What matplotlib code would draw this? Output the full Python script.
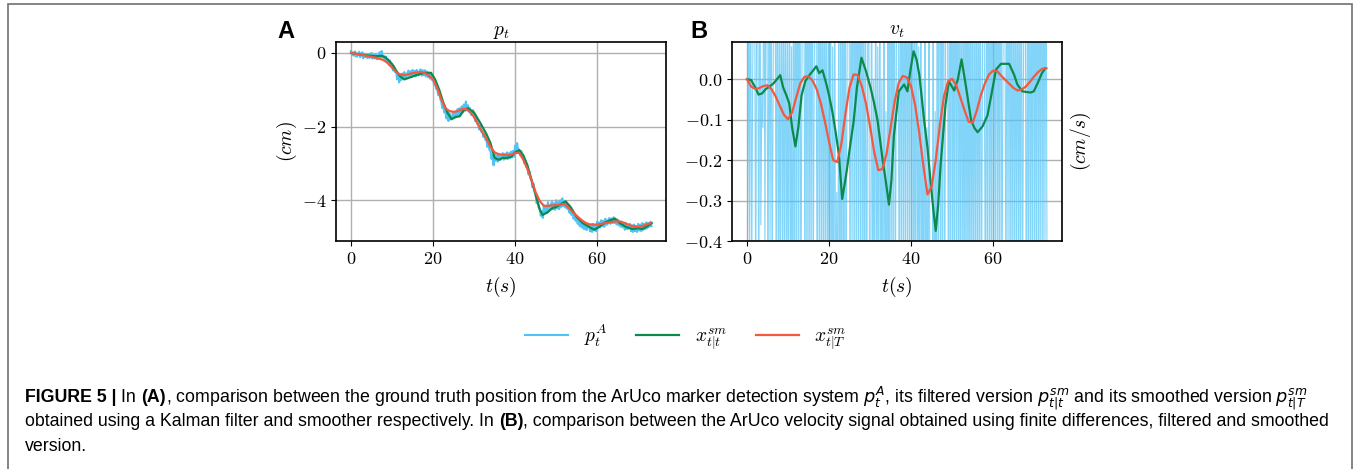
import numpy as np
import matplotlib
matplotlib.use("Agg")
import matplotlib.pyplot as plt
from matplotlib.patches import Rectangle

plt.rcParams['font.family'] = 'serif'
plt.rcParams['font.serif'] = ['cmr10']
plt.rcParams['mathtext.fontset'] = 'cm'
plt.rcParams['axes.formatter.use_mathtext'] = True
plt.rcParams['axes.unicode_minus'] = True

# ArUco position samples, every 0.25 s (cm)
dt_aruco = 0.25
p_aruco = [
    0.05, -0.06, 0.02, -0.08,   0.04, -0.10, -0.10, -0.02,   0.03, -0.12, -0.04, 0.02,
    -0.15, -0.02, -0.11, -0.11,  -0.14, -0.03, -0.14, -0.03,  0.00, -0.16, -0.05, -0.15,
    -0.03, -0.17, -0.17, -0.04,  0.02, -0.13, 0.05, -0.12,  -0.08, -0.22, -0.10, -0.24,
    -0.17, -0.33, -0.20, -0.36,  -0.32, -0.48, -0.36, -0.52,  -0.50, -0.72, -0.55, -0.80,
    -0.58, -0.74, -0.56, -0.70,  -0.52, -0.68, -0.68, -0.55,  -0.48, -0.64, -0.50, -0.66,
    -0.46, -0.63, -0.49, -0.64,  -0.46, -0.61, -0.61, -0.47,  -0.45, -0.62, -0.47, -0.61,
    -0.47, -0.64, -0.50, -0.66,  -0.55, -0.70, -0.58, -0.74,  -0.70, -0.88, -0.78, -0.98,
    -0.96, -1.15, -1.05, -1.25,  -1.32, -1.50, -1.42, -1.62,  -1.55, -1.78, -1.60, -1.85,
    -1.64, -1.80, -1.80, -1.66,  -1.60, -1.76, -1.62, -1.74,  -1.52, -1.68, -1.50, -1.66,
    -1.45, -1.62, -1.40, -1.58,  -1.32, -1.56, -1.42, -1.60,  -1.50, -1.68, -1.68, -1.55,
    -1.70, -1.85, -1.75, -1.92,  -1.92, -2.08, -1.98, -2.14,  -2.12, -2.28, -2.20, -2.36,
    -2.36, -2.55, -2.46, -2.64,  -2.66, -2.88, -2.78, -3.05,  -2.76, -2.93, -2.78, -2.95,
    -2.74, -2.90, -2.90, -2.76,  -2.72, -2.90, -2.74, -2.88,  -2.70, -2.88, -2.72, -2.86,
    -2.68, -2.84, -2.66, -2.82,  -2.52, -2.72, -2.45, -2.70,  -2.62, -2.78, -2.66, -2.84,
    -2.82, -3.00, -2.92, -3.10,  -3.10, -3.30, -3.22, -3.42,  -3.45, -3.65, -3.55, -3.75,
    -3.85, -4.08, -3.95, -4.20,  -4.22, -4.42, -4.30, -4.48,  -4.14, -4.32, -4.18, -4.35,
    -4.05, -4.26, -4.26, -4.10,  -4.04, -4.24, -4.08, -4.26,  -4.00, -4.22, -4.05, -4.24,
    -4.00, -4.18, -3.95, -4.16,  -4.02, -4.20, -4.06, -4.24,  -4.15, -4.34, -4.22, -4.40,
    -4.30, -4.50, -4.38, -4.56,  -4.46, -4.64, -4.52, -4.70,  -4.55, -4.74, -4.62, -4.78,
    -4.63, -4.80, -4.80, -4.66,  -4.66, -4.84, -4.70, -4.86,  -4.64, -4.82, -4.68, -4.84,
    -4.58, -4.76, -4.60, -4.74,  -4.54, -4.70, -4.56, -4.72,  -4.50, -4.66, -4.66, -4.52,
    -4.48, -4.64, -4.50, -4.62,  -4.46, -4.62, -4.50, -4.66,  -4.52, -4.68, -4.56, -4.72,
    -4.58, -4.74, -4.62, -4.80,  -4.62, -4.78, -4.78, -4.66,  -4.64, -4.84, -4.68, -4.86,
    -4.66, -4.84, -4.70, -4.86,  -4.64, -4.82, -4.66, -4.84,  -4.62, -4.80, -4.64, -4.78,
    -4.60, -4.76, -4.62, -4.72,  -4.58, -4.70,
]

# Kalman filtered position x_{t|t}
t_filt_pos = [0, 2, 4, 6, 7.5, 8.5, 10, 11, 12, 13, 14, 16, 18, 19.5, 20.5, 21.5, 22.5, 23.5,
              24.5, 25.5, 26.5, 27.5, 28.5, 30, 31.5, 33, 34, 35, 36, 37, 38, 39, 40, 41, 42,
              43, 44, 45, 46, 46.7, 48, 49, 50, 51, 52.3, 53.5, 55, 56.5, 58, 59.3, 60.5, 62,
              63, 64.3, 65.5, 67, 68.5, 70, 71, 72, 73.3]
filt_pos = [0, -0.04, -0.07, -0.09, -0.08, -0.13, -0.30, -0.48, -0.64, -0.72, -0.68, -0.60,
            -0.54, -0.54, -0.72, -1.00, -1.35, -1.62, -1.80, -1.74, -1.72, -1.55, -1.50, -1.62,
            -1.90, -2.20, -2.45, -2.85, -2.90, -2.85, -2.85, -2.82, -2.70, -2.64, -2.78, -3.05,
            -3.45, -3.85, -4.25, -4.40, -4.32, -4.22, -4.18, -4.12, -4.03, -4.18, -4.45, -4.62,
            -4.72, -4.80, -4.72, -4.60, -4.55, -4.50, -4.62, -4.72, -4.78, -4.76, -4.78, -4.72,
            -4.62]

# Kalman smoothed position x_{t|T}, every second
t_smooth = np.arange(0, 74)
smooth_pos = [0.00, -0.02, -0.04, -0.06, -0.09, -0.11, -0.13, -0.16, -0.20, -0.28,
              -0.40, -0.52, -0.59, -0.60, -0.58, -0.55, -0.53, -0.52, -0.55, -0.62,
              -0.72, -0.95, -1.25, -1.50, -1.58, -1.60, -1.58, -1.53, -1.52, -1.60,
              -1.74, -1.95, -2.15, -2.33, -2.55, -2.70, -2.75, -2.77, -2.77, -2.76,
              -2.72, -2.71, -2.90, -3.15, -3.45, -3.78, -4.02, -4.15, -4.15, -4.14,
              -4.13, -4.12, -4.10, -4.20, -4.32, -4.42, -4.52, -4.60, -4.65, -4.66,
              -4.66, -4.64, -4.62, -4.60, -4.58, -4.57, -4.59, -4.63, -4.68, -4.71,
              -4.72, -4.70, -4.66, -4.62]

# filtered velocity
t_filt_vel = [0, 1, 2, 2.8, 3.7, 4.5, 5.5, 6.5, 7.3, 8.1, 8.8, 9.6, 10.3, 11.0, 11.8, 12.5,
              13.3, 14.2, 15.2, 16.0, 16.9, 17.6, 18.4, 19.3, 20.0, 20.8, 21.6, 22.4, 23.2,
              23.8, 24.4, 25.2, 26.0, 26.8, 27.9, 29.0, 30.1, 31.0, 31.8, 33.0, 33.8, 34.6,
              35.2, 35.8, 37.0, 38.3, 39.1, 39.8, 40.6, 41.3, 42.0, 43.2, 44.0, 44.9, 45.5,
              46.0, 46.6, 47.2, 48.4, 49.2, 50.5, 51.4, 52.3, 53.4, 54.6, 55.4, 56.2, 57.4,
              58.6, 59.5, 60.7, 61.9, 63.9, 65.1, 65.9, 67.1, 69.1, 69.9, 70.7, 71.9, 72.7]
filt_vel = [0, -0.002, -0.02, -0.038, -0.035, -0.025, -0.018, -0.01, 0.0, 0.01, -0.02, -0.04,
            -0.06, -0.12, -0.166, -0.12, -0.04, -0.005, 0.01, 0.02, 0.032, 0.015, 0.022, -0.01,
            -0.04, -0.08, -0.13, -0.187, -0.296, -0.26, -0.22, -0.16, -0.104, -0.02, 0.053,
            0.02, -0.02, -0.06, -0.10, -0.195, -0.25, -0.31, -0.25, -0.14, -0.03, -0.013,
            -0.03, 0.02, 0.069, 0.05, 0.011, -0.104, -0.17, -0.27, -0.33, -0.375, -0.31, -0.21,
            -0.063, -0.005, -0.028, 0.0, 0.049, -0.02, -0.10, -0.12, -0.131, -0.117, -0.09,
            -0.042, 0.024, 0.038, 0.038, 0.011, -0.013, -0.03, -0.033, -0.03, -0.013, 0.015,
            0.027]

# smoothed velocity, every second
smooth_vel = [0.000, -0.018, -0.024, -0.022, -0.017, -0.015, -0.025, -0.043, -0.066, -0.088,
              -0.099, -0.082, -0.045, -0.010, 0.006, 0.007, -0.004, -0.025, -0.060, -0.105,
              -0.155, -0.200, -0.205, -0.160, -0.085, -0.020, 0.012, 0.010, -0.018, -0.060,
              -0.117, -0.180, -0.225, -0.222, -0.185, -0.120, -0.055, -0.008, 0.008, 0.004,
              -0.018, -0.065, -0.134, -0.215, -0.285, -0.265, -0.200, -0.115, -0.043, -0.005,
              0.001, -0.015, -0.045, -0.076, -0.105, -0.108, -0.078, -0.040, -0.010, 0.012,
              0.021, 0.020, 0.008, -0.002, -0.012, -0.022, -0.028, -0.025, -0.018, -0.006,
              0.007, 0.018, 0.026, 0.027]

c_blue = '#4FC3F7'
c_green = '#0B8A4C'
c_red = '#F4583F'

t_aruco = np.arange(len(p_aruco)) * dt_aruco
v_aruco = np.diff(p_aruco) / dt_aruco   # finite differences
t_v = t_aruco[:-1] + dt_aruco / 2

W, H = 1354, 469
fig = plt.figure(figsize=(W / 100, H / 100), dpi=100)

ax1 = fig.add_axes([336 / W, 1 - 241 / H, 330 / W, 199 / H])
ax2 = fig.add_axes([732 / W, 1 - 241 / H, 330 / W, 199 / H])

l1, = ax1.plot(t_aruco, p_aruco, color=c_blue, lw=1.5)
l2, = ax1.plot(t_filt_pos, filt_pos, color=c_green, lw=1.6)
l3, = ax1.plot(t_smooth, smooth_pos, color=c_red, lw=1.6)
ax1.set_yticks([-4, -2, 0])
ax1.set_ylabel('$(cm)$', fontsize=14, labelpad=2)
ax1.set_title('$p_t$', fontsize=14, pad=5)

ax2.plot(t_v, v_aruco, color=c_blue, lw=0.8, alpha=0.7)
ax2.plot(t_filt_vel, filt_vel, color=c_green, lw=1.6)
ax2.plot(t_smooth, smooth_vel, color=c_red, lw=1.6)
ax2.set_ylim(-0.4, 0.092)
ax2.set_yticks([-0.4, -0.3, -0.2, -0.1, 0.0])
ax2.yaxis.set_label_position('right')
ax2.set_ylabel('$(cm/s)$', fontsize=14, labelpad=5)
ax2.set_title('$v_t$', fontsize=14, pad=5)

for ax in (ax1, ax2):
    ax.set_xticks([0, 20, 40, 60])
    ax.set_xlabel('$t(s)$', fontsize=14, labelpad=6)
    ax.grid(True, color='#b0b0b0', lw=1)
    ax.tick_params(labelsize=13)
    for s in ax.spines.values():
        s.set_linewidth(1.2)

ax1.set_xlim(ax2.get_xlim())

fig.text(277 / W, 1 - 31 / H, 'A', fontsize=17, fontweight='bold',
         family='Liberation Sans', va='center', ha='left')
fig.text(690 / W, 1 - 31 / H, 'B', fontsize=17, fontweight='bold',
         family='Liberation Sans', va='center', ha='left')

fig.legend([l1, l2, l3], ['$p_t^A$', '$x_{t|t}^{sm}$', '$x_{t|T}^{sm}$'],
           loc='center', bbox_to_anchor=(686 / W, 1 - 337 / H), ncol=3,
           frameon=False, fontsize=14, handlelength=2.2, handletextpad=0.8,
           columnspacing=1.5)

# frame around the figure
fig.patches.append(Rectangle((8 / W, -0.1), (1352 - 8) / W, 1.1 - 4 / H,
                             transform=fig.transFigure, fill=False,
                             edgecolor='#707070', lw=1.2))

# caption, pieces of text put one after another
renderer = fig.canvas.get_renderer()
cap_lines = [
    (1 - 398 / H, [('FIGURE 5 | ', 'bold'), ('In ', 'normal'), ('(A)', 'bold'),
                   (', comparison between the ground truth position from the ArUco marker '
                    'detection system $p_t^A$, its filtered version $p_{t|t}^{sm}$ and its '
                    'smoothed version $p_{t|T}^{sm}$', 'normal')]),
    (1 - 421 / H, [('obtained using a Kalman filter and smoother respectively. In ', 'normal'),
                   ('(B)', 'bold'),
                   (', comparison between the ArUco velocity signal obtained using finite '
                    'differences, filtered and smoothed', 'normal')]),
    (1 - 446 / H, [('version.', 'normal')]),
]
for y, pieces in cap_lines:
    x = 25 / W
    for s, w in pieces:
        t = fig.text(x, y, s, fontsize=12.8, fontweight=w, family='Liberation Sans',
                     math_fontfamily='dejavusans', va='center', ha='left')
        x += t.get_window_extent(renderer).width / W

fig.savefig('out.png', dpi=100)
